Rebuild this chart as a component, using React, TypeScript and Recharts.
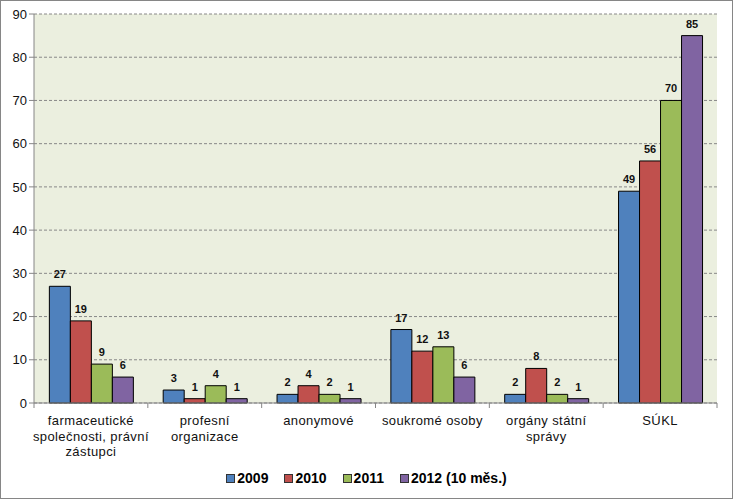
import React from 'react'
import { BarChart, Bar, XAxis, YAxis, CartesianGrid, Legend, LabelList } from 'recharts'

const categories = [
  'farmaceutické\nspolečnosti, právní\nzástupci',
  'profesní\norganizace',
  'anonymové',
  'soukromé osoby',
  'orgány státní\nsprávy',
  'SÚKL',
]
const y2009 = [27, 3, 2, 17, 2, 49]
const y2010 = [19, 1, 4, 12, 8, 56]
const y2011 = [9, 4, 2, 13, 2, 70]
const y2012 = [6, 1, 1, 6, 1, 85]
const yTicks = [0, 10, 20, 30, 40, 50, 60, 70, 80, 90]

const series = [
  { key: 'y2009', name: '2009', color: '#4F81BD' },
  { key: 'y2010', name: '2010', color: '#C0504D' },
  { key: 'y2011', name: '2011', color: '#9BBB59' },
  { key: 'y2012', name: '2012 (10 měs.)', color: '#8064A2' },
]

const data = categories.map((name, i) => ({
  name,
  y2009: y2009[i],
  y2010: y2010[i],
  y2011: y2011[i],
  y2012: y2012[i],
}))

const W = 733
const H = 499
const PLOT_LEFT = 34
const PLOT_RIGHT = 717
const PLOT_BOTTOM = 403
const BAND = (PLOT_RIGHT - PLOT_LEFT) / categories.length
const FONT = '"Liberation Sans", Arial, sans-serif'

const CategoryTick = (props: any) => {
  const { x, payload, index } = props
  const lines = String(payload.value).split('\n')
  return (
    <g>
      <line x1={x - BAND / 2} x2={x - BAND / 2} y1={PLOT_BOTTOM} y2={PLOT_BOTTOM + 5} stroke="#868686" />
      {index === categories.length - 1 && (
        <line x1={x + BAND / 2} x2={x + BAND / 2} y1={PLOT_BOTTOM} y2={PLOT_BOTTOM + 5} stroke="#868686" />
      )}
      <text
        x={x}
        y={PLOT_BOTTOM + 22}
        textAnchor="middle"
        fontFamily={FONT}
        fontSize={13}
        letterSpacing={0.4}
        fill="#111"
      >
        {lines.map((l, i) => (
          <tspan key={i} x={x} dy={i === 0 ? 0 : 15.5}>
            {l}
          </tspan>
        ))}
      </text>
    </g>
  )
}

const LegendContent = () => (
  <div style={{ display: 'flex', justifyContent: 'center', fontFamily: FONT, fontWeight: 'bold', fontSize: 14, color: '#000' }}>
    {series.map((s, i) => (
      <div
        key={s.key}
        style={{ display: 'flex', alignItems: 'center', marginRight: i === series.length - 1 ? 0 : 16 }}
      >
        <span
          style={{
            display: 'inline-block',
            width: 7,
            height: 7,
            background: s.color,
            border: '1px solid #333',
            marginRight: 2,
          }}
        />
        <span>{s.name}</span>
      </div>
    ))}
  </div>
)

export default function App() {
  return (
    <div style={{ position: 'absolute', left: 0, top: 0, width: W, height: H, background: '#fff' }}>
      <BarChart
        width={W}
        height={H}
        data={data}
        margin={{ top: 14, right: W - PLOT_RIGHT, left: 0, bottom: 0 }}
        barCategoryGap="13.5%"
        barGap={0}
      >
        <CartesianGrid vertical={false} stroke="#888" strokeDasharray="3 2" fill="#EBEFDF" />
        <XAxis
          dataKey="name"
          height={H - PLOT_BOTTOM}
          interval={0}
          tickLine={false}
          axisLine={{ stroke: '#868686' }}
          tick={<CategoryTick />}
        />
        <YAxis
          width={PLOT_LEFT}
          domain={[0, 90]}
          ticks={yTicks}
          interval={0}
          tickSize={5}
          tickMargin={2}
          axisLine={{ stroke: '#868686' }}
          tickLine={{ stroke: '#868686' }}
          tick={{ fontFamily: FONT, fontSize: 13, fill: '#111' }}
        />
        <Legend
          layout="horizontal"
          verticalAlign="middle"
          align="center"
          wrapperStyle={{ top: 470, left: 0, width: W }}
          content={<LegendContent />}
        />
        {series.map((s) => (
          <Bar key={s.key} dataKey={s.key} name={s.name} fill={s.color} stroke="#000" strokeWidth={1} isAnimationActive={false}>
            <LabelList
              dataKey={s.key}
              position="top"
              offset={8}
              style={{ fontFamily: FONT, fontSize: 11, fontWeight: 'bold', fill: '#111' }}
            />
          </Bar>
        ))}
      </BarChart>
      <div
        style={{
          position: 'absolute',
          left: 0,
          top: 0,
          width: W,
          height: H,
          boxSizing: 'border-box',
          border: '1px solid #868686',
          pointerEvents: 'none',
        }}
      />
    </div>
  )
}
